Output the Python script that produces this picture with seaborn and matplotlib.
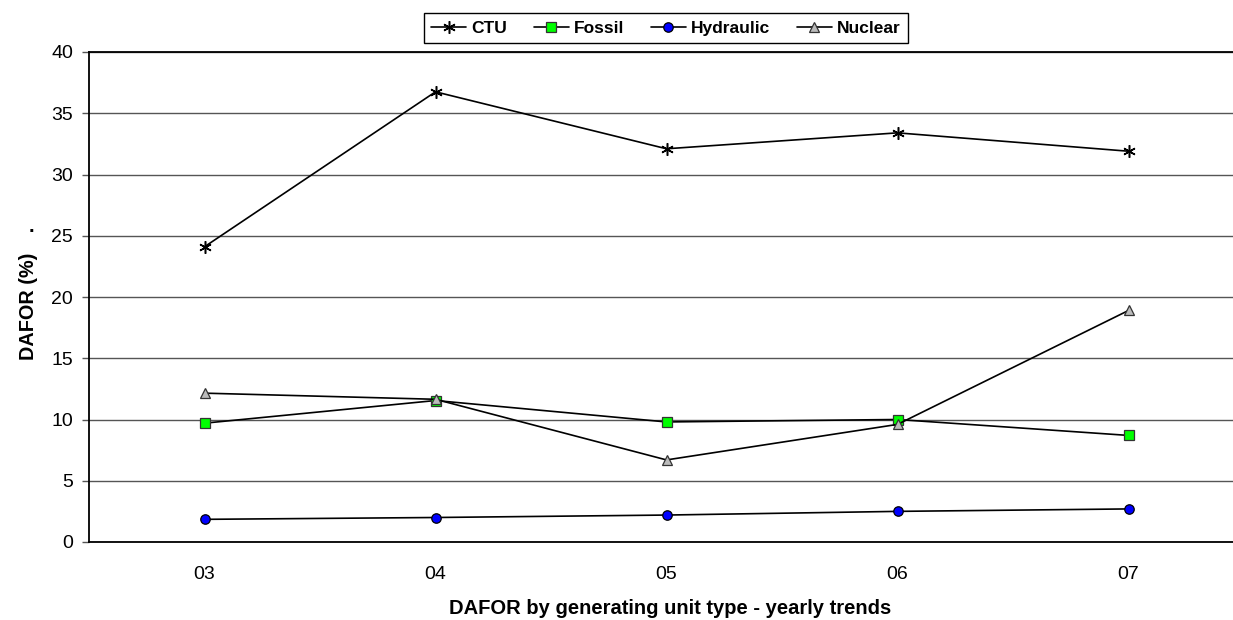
import matplotlib
matplotlib.use("Agg")
import matplotlib.pyplot as plt
import seaborn as sns
import pandas as pd
from matplotlib.lines import Line2D

years = ["03", "04", "05", "06", "07"]
ctu = [24.1, 36.75, 32.1, 33.4, 31.9]
fossil = [9.7, 11.55, 9.8, 10.0, 8.7]
hydraulic = [1.85, 2.0, 2.2, 2.5, 2.7]
nuclear = [12.15, 11.65, 6.7, 9.6, 18.9]
series_names = ["CTU", "Fossil", "Hydraulic", "Nuclear"]

sns.set_style("white")
plt.rcParams['font.family'] = ['Liberation Sans', 'DejaVu Sans']
plt.rcParams['text.color'] = 'black'
plt.rcParams['xtick.color'] = 'black'
plt.rcParams['ytick.color'] = 'black'

W, H = 1233, 620
fig = plt.figure(figsize=(W / 100, H / 100), dpi=100)
left, right, top, bottom = 89, 1244, 52, 542
ax = fig.add_axes([left / W, 1 - bottom / H, (right - left) / W, (bottom - top) / H])

df = pd.DataFrame({
    "year": years * 4,
    "value": ctu + fossil + hydraulic + nuclear,
    "series": sum([[n] * len(years) for n in series_names], []),
})

styles = {
    "CTU": dict(marker=(6, 2, 0), markersize=9, markerfacecolor="black", markeredgecolor="black", markeredgewidth=1.1),
    "Fossil": dict(marker="s", markersize=6.5, markerfacecolor="#00FF00", markeredgecolor="#333333", markeredgewidth=0.9),
    "Hydraulic": dict(marker="o", markersize=6.8, markerfacecolor="#0000FF", markeredgecolor="black", markeredgewidth=0.9),
    "Nuclear": dict(marker="^", markersize=7.0, markerfacecolor="#BBBBBB", markeredgecolor="#333333", markeredgewidth=0.9),
}

for name in series_names:
    sub = df[df["series"] == name]
    sns.lineplot(data=sub, x="year", y="value", ax=ax, color="black", linewidth=1.2,
                 legend=False, **styles[name])

ax.set_xlim(-0.5, 4.5)
ax.set_ylim(0, 40)
ax.set_yticks(range(0, 41, 5))
ax.yaxis.grid(True, color="#555555", linewidth=1.0)
ax.xaxis.grid(False)
ax.set_axisbelow(True)
ax.spines["right"].set_visible(False)
for s in ["top", "left", "bottom"]:
    ax.spines[s].set_color("black")
    ax.spines[s].set_linewidth(1.3)
ax.tick_params(axis="y", which="major", left=True, length=4.7, width=1, color="#555555",
               labelsize=14, pad=6.8, labelcolor="black")
ax.tick_params(axis="x", which="major", bottom=False, length=0, labelsize=14, pad=17.5,
               labelcolor="black")
ax.set_xlabel("")
ax.set_ylabel("")

fig.text(670 / W, 1 - 614 / H, "DAFOR by generating unit type - yearly trends",
         ha="center", va="baseline", fontsize=14.5, fontweight="bold")
fig.text(28 / W, 1 - 306.5 / H, "DAFOR (%)", rotation=90,
         ha="center", va="center", fontsize=14.3, fontweight="bold")
fig.text(31 / W, 1 - 231.5 / H, ".", ha="center", va="baseline",
         fontsize=14.3, fontweight="bold")

handles = [Line2D([0], [0], color="black", linewidth=1.2, **styles[n]) for n in series_names]
leg = fig.legend(handles, series_names, loc="center", bbox_to_anchor=(666 / W, 1 - 28 / H),
                 ncol=4, frameon=True, fancybox=False, edgecolor="black", framealpha=1,
                 prop={"weight": "bold", "size": 12.5}, handlelength=2.0, handletextpad=0.3,
                 columnspacing=1.55, borderpad=0.4)
leg.get_frame().set_linewidth(1.0)

fig.savefig("out.png", dpi=100)
